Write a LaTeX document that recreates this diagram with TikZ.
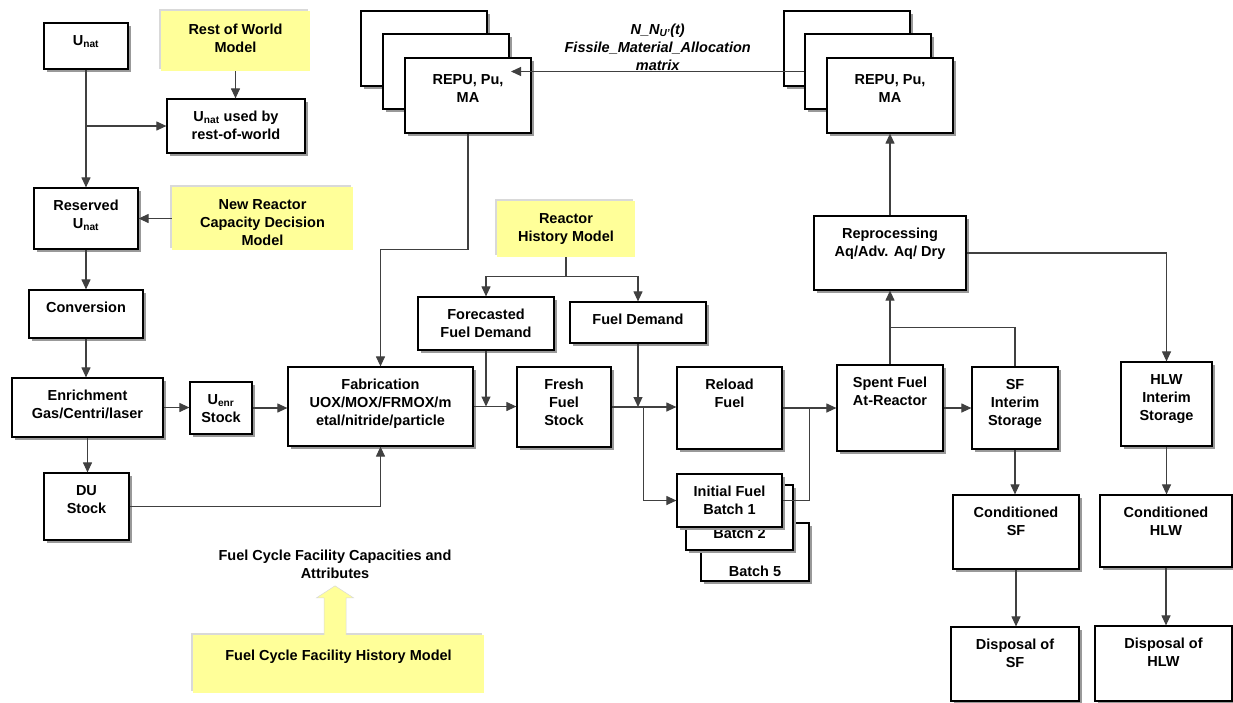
\documentclass[tikz,border=0pt]{standalone}
\usepackage{fontspec}
\setmainfont{Liberation Sans}
\usetikzlibrary{arrows.meta,shadows,calc}
\definecolor{modelyellow}{RGB}{255,255,153}

\begin{document}
\begin{tikzpicture}[
    x=1pt, y=-1pt,
    every node/.style={font=\fontsize{14.5}{18}\selectfont\bfseries},
    stage/.style={
        draw, line width=1.2pt, fill=white, inner sep=0pt,
        drop shadow={shadow xshift=3pt, shadow yshift=-3pt, fill=black!40, opacity=1}
    },
    model/.style={
        fill=modelyellow, inner sep=0pt,
        drop shadow={shadow xshift=-2pt, shadow yshift=2pt, fill=black!15, opacity=1}
    },
    txt/.style={anchor=north, inner sep=0pt, yshift=-12.5pt, align=center},
    btxt/.style={anchor=south, inner sep=0pt, align=center},
    arr/.style={-{Triangle[length=10pt, width=9pt]}, line width=1.1pt, draw=black!75},
    ln/.style={line width=1.1pt, draw=black!75}
]
\useasboundingbox (0,0) rectangle (1233,702);

% Uranium supply
\node[stage, minimum width=84pt, minimum height=46pt,
    label={[txt]north:U\textsubscript{nat}}] (unat) at (86,46) {};
\node[model, minimum width=149pt, minimum height=60pt,
    label={[txt]north:{Rest of World\\Model}}] (rowm) at (235.5,41) {};
\node[stage, minimum width=138pt, minimum height=54pt,
    label={[txt]north:{U\textsubscript{nat} used by\\rest-of-world}}] (unatrow) at (236,126) {};
\node[stage, minimum width=104pt, minimum height=61pt,
    label={[txt]north:{Reserved\\U\textsubscript{nat}}}] (resv) at (86,218.5) {};
\node[model, minimum width=181pt, minimum height=63pt,
    label={[txt]north:{New Reactor\\Capacity Decision\\Model}}] (nrcd) at (262.5,218.5) {};
\node[stage, minimum width=114pt, minimum height=48pt,
    label={[txt]north:Conversion}] (conv) at (86,314) {};
\node[stage, minimum width=151pt, minimum height=59pt,
    label={[txt]north:{Enrichment\\Gas/Centri/laser}}] (enr) at (87.5,407.5) {};
\node[stage, minimum width=62pt, minimum height=52pt,
    label={[txt]north:{U\textsubscript{enr}\\Stock}}] (uenr) at (221,408) {};
\node[stage, minimum width=185pt, minimum height=79pt,
    label={[txt]north:{Fabrication\\UOX/MOX/FRMOX/m\\etal/nitride/particle}}] (fab) at (380.5,406.5) {};
\node[stage, minimum width=85pt, minimum height=67pt,
    label={[txt]north:{DU\\Stock}}] (du) at (86.5,506.5) {};

% Recovered material stacks
\node[stage, minimum width=126pt, minimum height=75pt] (repuLa) at (424,48.5) {};
\node[stage, minimum width=126pt, minimum height=75pt] (repuLb) at (446,71.5) {};
\node[stage, minimum width=126pt, minimum height=75pt,
    label={[txt, yshift=-4pt]north:{REPU, Pu,\\MA}}] (repuL) at (468,95.5) {};
\node[stage, minimum width=126pt, minimum height=75pt] (repuRa) at (847,48.5) {};
\node[stage, minimum width=126pt, minimum height=75pt] (repuRb) at (868,71.5) {};
\node[stage, minimum width=126pt, minimum height=75pt,
    label={[txt, yshift=-4pt]north:{REPU, Pu,\\MA}}] (repuR) at (890,95.5) {};
\coordinate (repuin) at (511,71.5);

% Reactor demand
\node[model, minimum width=138pt, minimum height=56pt,
    label={[txt]north:{Reactor\\History Model}}] (rhm) at (566,229) {};
\node[stage, minimum width=136pt, minimum height=53pt,
    label={[txt]north:{Forecasted\\Fuel Demand}}] (ffd) at (486,323.5) {};
\node[stage, minimum width=136pt, minimum height=41pt,
    label={[txt]north:Fuel Demand}] (fd) at (638,322.5) {};
\node[stage, minimum width=94pt, minimum height=80pt,
    label={[txt]north:{Fresh\\Fuel\\Stock}}] (fresh) at (564,407) {};
\node[stage, minimum width=105pt, minimum height=82pt,
    label={[txt]north:{Reload\\Fuel}}] (reload) at (729.5,408) {};
\node[stage, minimum width=108pt, minimum height=58pt,
    label={[btxt, yshift=4.8pt]south:Batch 5}] (batch5) at (755,552) {};
\node[stage, minimum width=107pt, minimum height=65pt,
    label={[btxt, yshift=11.8pt]south:Batch 2}] (batch2) at (739.5,517.5) {};
\node[stage, minimum width=105pt, minimum height=53pt,
    label={[txt]north:{Initial Fuel\\Batch 1}}] (batch1) at (729.5,500.5) {};

% Back end
\node[stage, minimum width=106pt, minimum height=86pt,
    label={[txt]north:{Spent Fuel\\At-Reactor}}] (spent) at (890,408) {};
\node[stage, minimum width=86pt, minimum height=82pt,
    label={[txt]north:{SF\\Interim\\Storage}}] (sfis) at (1015,408) {};
\node[stage, minimum width=152pt, minimum height=74pt,
    label={[txt]north:{Reprocessing\\Aq/Adv. Aq/ Dry}}] (repro) at (890,253) {};
\node[stage, minimum width=91pt, minimum height=84pt,
    label={[txt]north:{HLW\\Interim\\Storage}}] (hlwis) at (1166.5,404) {};
\node[stage, minimum width=126pt, minimum height=74pt,
    label={[txt]north:{Conditioned\\SF}}] (csf) at (1016,532) {};
\node[stage, minimum width=132pt, minimum height=72pt,
    label={[txt]north:{Conditioned\\HLW}}] (chlw) at (1166,531) {};
\node[stage, minimum width=128pt, minimum height=74pt,
    label={[txt]north:{Disposal of\\SF}}] (dsf) at (1015,664) {};
\node[stage, minimum width=137pt, minimum height=75pt,
    label={[txt]north:{Disposal of\\HLW}}] (dhlw) at (1163.5,663.5) {};

% Facility model
\node[model, minimum width=291pt, minimum height=58pt,
    label={[txt, yshift=-2pt]north:Fuel Cycle Facility History Model}] (fcfhm) at (338.5,664) {};
\node[align=center] (fccap) at (335,564) {Fuel Cycle Facility Capacities and\\Attributes};
\coordinate (fcbase) at (fccap.south |- fcfhm.north);
\filldraw[fill=modelyellow, draw=black!15, line width=0.5pt]
    ($(fcbase)+(-11,0)$) -- ++(0,-37) -- ++(-7.5,0) -- ($(fcbase)+(0,-49)$)
    -- ($(fcbase)+(18.5,-37)$) -- ++(-7.5,0) -- ($(fcbase)+(11,0)$);

% Front end connectors
\draw[arr] (unat) -- (resv);
\draw[arr] (unat.south |- unatrow.west) -- (unatrow.west);
\draw[arr] (rowm.south) -- (rowm.south |- unatrow.north);
\draw[arr] (nrcd) -- (resv);
\draw[arr] (resv) -- (conv);
\draw[arr] (conv.south) -- (conv.south |- enr.north);
\draw[arr] (enr.east) -- (enr.east -| uenr.west);
\draw[arr] (uenr.east) -- (uenr.east -| fab.west);
\draw[arr] (enr.south) -- (enr.south |- du.north);
\draw[arr] (du.east) -| (fab.south);
\draw[arr] (repuL.south) -- ++(0,116) -| (fab.north);

% Allocation of recovered material
\draw[arr] (repuRb.west) -- (repuin)
    node[midway, above=0pt, inner sep=0.5pt, align=center,
         font=\fontsize{14.5}{18}\selectfont\bfseries\itshape]
    {N\_N\textsubscript{U'}(t)\\Fissile\_Material\_Allocation\\matrix};

% Reactor connectors
\draw[arr] (rhm.south) -- ++(0,19) -| (ffd.north);
\draw[arr] (rhm.south) -- ++(0,19) -| (fd.north);
\draw[arr] (fab.east) -- (fab.east -| fresh.west);
\draw[arr] (ffd.south) -- (ffd.south |- fab.east);
\draw[arr] (fresh.east) -- (fresh.east -| reload.west);
\draw[arr] (fd.south) -- (fd.south |- fresh.east);
\draw[arr] (fresh.east) ++(32,0) |- (batch1.west);
\draw[arr] (reload.east) -- (reload.east -| spent.west);
\draw[ln] (batch1.east) -| ($(reload.east)+(27,0)$);

% Back end connectors
\draw[arr] (spent.east) -- (spent.east -| sfis.west);
\draw[arr] (spent) -- (repro);
\draw[ln] (sfis.north) |- ($(spent.north)!0.5!(repro.south)$);
\draw[arr] (repro) -- (repuR);
\draw[arr] (repro.east) -| (hlwis.north);
\draw[arr] (sfis.south) -- (sfis.south |- csf.north);
\draw[arr] (hlwis.south) -- (hlwis.south |- chlw.north);
\draw[arr] (csf.south) -- (csf.south |- dsf.north);
\draw[arr] (chlw.south) -- (chlw.south |- dhlw.north);

\end{tikzpicture}
\end{document}
